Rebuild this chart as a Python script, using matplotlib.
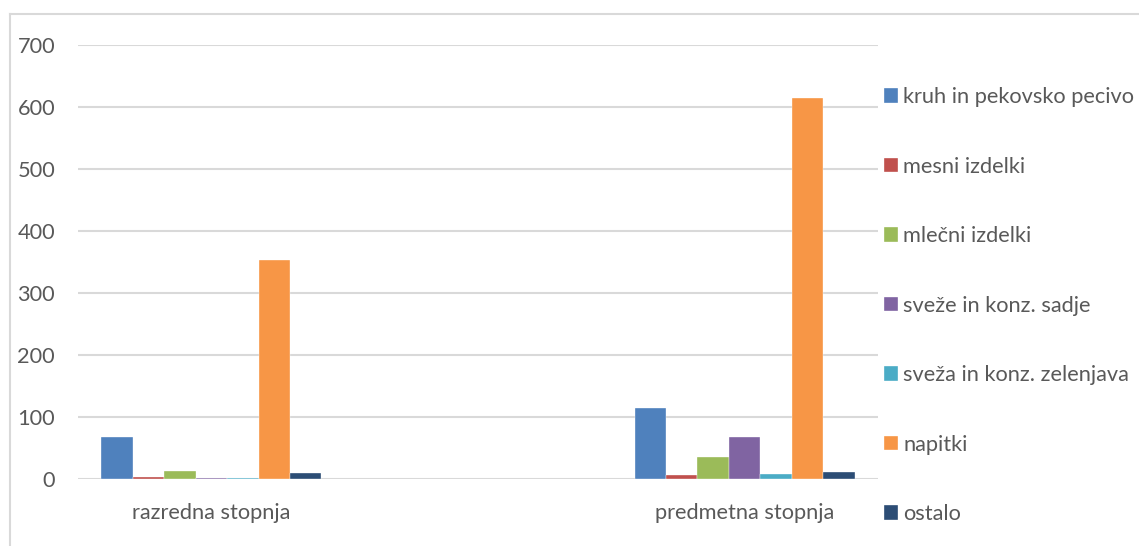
import matplotlib.pyplot as plt
from matplotlib.lines import Line2D
import numpy as np

plt.rcParams['font.family'] = ['Lato', 'DejaVu Sans']

# Data
stopnje = ['razredna stopnja', 'predmetna stopnja']
skupine = ['kruh in pekovsko pecivo', 'mesni izdelki', 'mlečni izdelki',
           'sveže in konz. sadje', 'sveža in konz. zelenjava', 'napitki', 'ostalo']
kruh = [68, 115]
mesni = [3, 6]
mlecni = [13, 36]
sadje = [1, 67]
zelenjava = [2, 8]
napitki = [353, 615]
ostalo = [9, 12]
barve = ['#4f81bd', '#c0504d', '#9bbb59', '#8064a2', '#4bacc6', '#f79646', '#2c4d75']

vrednosti = [kruh, mesni, mlecni, sadje, zelenjava, napitki, ostalo]
siva = '#595959'
fs = 15.7

fig = plt.figure(figsize=(11.39, 5.46), dpi=100)
ax = fig.add_axes([78 / 1139, 67 / 546, 800 / 1139, 434 / 546])

# outer chart frame
fig.add_artist(Line2D([10 / 1139, 10 / 1139], [0, 1 - 13.5 / 546],
                      transform=fig.transFigure, color='#d9d9d9', lw=1.5))
fig.add_artist(Line2D([10 / 1139, 1138 / 1139], [1 - 13.5 / 546, 1 - 13.5 / 546],
                      transform=fig.transFigure, color='#d9d9d9', lw=1.5))

x = np.arange(len(stopnje))
w = 0.059
for i, (ime, v) in enumerate(zip(skupine, vrednosti)):
    ax.bar(x + (i - 3) * w, v, w, color=barve[i], edgecolor='#ffffff',
           linewidth=0.25, label=ime, zorder=3)

ax.set_xlim(-0.25, 1.25)
ax.set_ylim(0, 700)
ax.set_yticks(range(0, 701, 100))
ax.yaxis.grid(True, color='#d9d9d9', linewidth=1.5)
ax.set_axisbelow(True)
for s in ax.spines.values():
    s.set_visible(False)
ax.tick_params(axis='both', length=0, colors=siva, labelsize=fs)
ax.tick_params(axis='y', pad=16.5)
ax.tick_params(axis='x', pad=17)
ax.set_xticks(x)
ax.set_xticklabels(stopnje)

leg = ax.legend(loc='upper left', bbox_to_anchor=(0.997, 0.923), frameon=False,
                handlelength=0.62, handleheight=0.62, handletextpad=0.25,
                labelspacing=2.27, fontsize=fs, labelcolor=siva,
                borderaxespad=0.2, borderpad=0.2)

fig.savefig('out.png', dpi=100)
